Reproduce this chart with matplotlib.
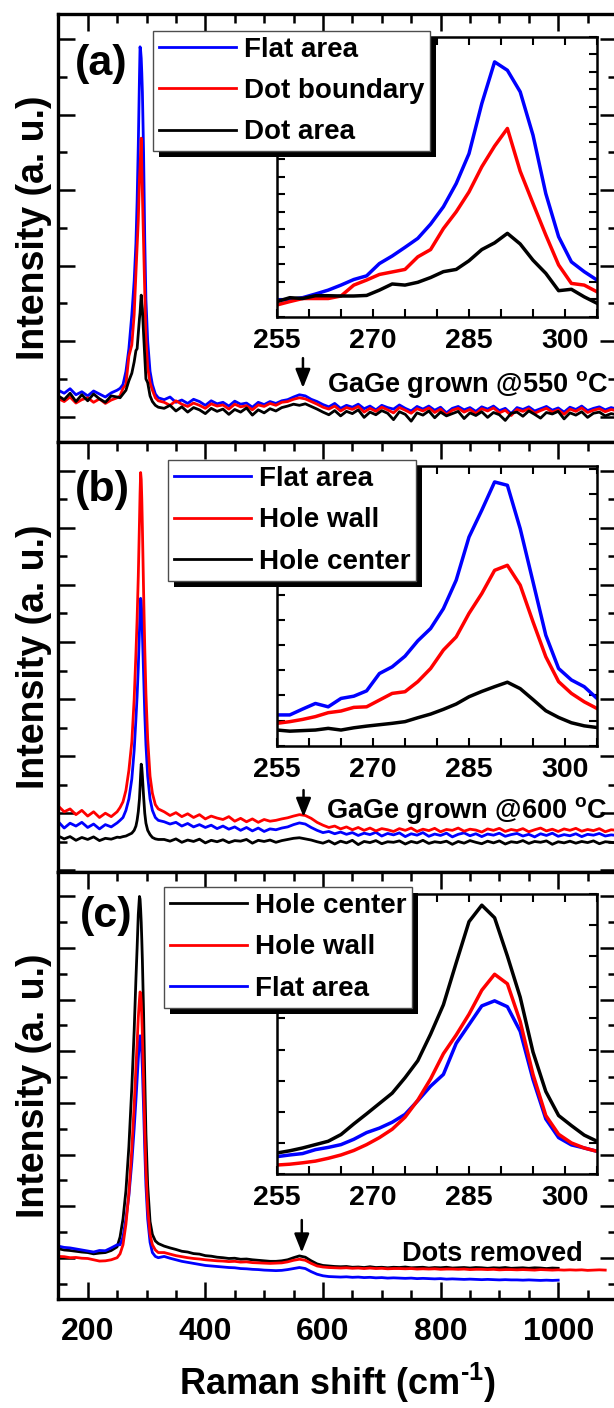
import numpy as np
import matplotlib
matplotlib.use("Agg")
import matplotlib.pyplot as plt
import matplotlib.patheffects as pe
from matplotlib.ticker import MultipleLocator, FixedLocator, NullFormatter

plt.rcParams.update({
    "font.family": "Liberation Sans",
    "font.weight": "bold",
    "axes.labelweight": "bold",
    "mathtext.fontset": "custom",
    "mathtext.rm": "Liberation Sans:bold",
    "mathtext.bf": "Liberation Sans:bold",
    "mathtext.it": "Liberation Sans:bold",
    "mathtext.sf": "Liberation Sans:bold",
})

# ---------------- data: main spectra (Raman shift, cm-1) ----------------
shift_left = [150, 160, 170, 180, 190, 200, 210, 220, 230, 240, 250]
shift_peak = [255, 260, 265, 270, 275, 279, 282, 284, 286, 288, 289, 290,
              291, 292, 293, 295, 297, 299, 302, 306, 310, 315, 320]
shift_tail = list(range(330, 1101, 10))
shift = np.array(shift_left + shift_peak + shift_tail, dtype=float)

# panel (a): GaGe grown @550 C
a_flat = ([0.70, 0.62, 0.74, 0.58, 0.66, 0.55, 0.68, 0.60, 0.52, 0.63, 0.70]
          + [0.75, 0.85, 1.2, 1.8, 2.7, 3.6, 4.6, 5.7, 7.2, 9.0, 9.8, 9.7, 9.5,
             9.1, 8.6, 7.0, 4.7, 3.1, 2.0, 1.2, 0.85, 0.6, 0.5]
          + [0.45, 0.52, 0.38, 0.44, 0.35, 0.46, 0.40, 0.30, 0.42, 0.34,
             0.38, 0.28, 0.41, 0.33, 0.36, 0.25, 0.38, 0.32, 0.40, 0.35,
             0.42, 0.45, 0.52, 0.58, 0.55, 0.46, 0.40, 0.32, 0.26, 0.35,
             0.22, 0.30, 0.25, 0.33, 0.21, 0.28, 0.18, 0.30, 0.24, 0.20,
             0.31, 0.22, 0.15, 0.27, 0.20, 0.28, 0.17, 0.25, 0.10, 0.22,
             0.27, 0.18, 0.24, 0.14, 0.26, 0.20, 0.28, 0.16, 0.22, 0.08,
             0.24, 0.19, 0.26, 0.15, 0.21, 0.27, 0.17, 0.23, 0.12, 0.25,
             0.19, 0.28, 0.16, 0.22, 0.26, 0.18, 0.24, 0.20])
a_boundary = ([0.48, 0.40, 0.52, 0.36, 0.45, 0.50, 0.38, 0.47, 0.35, 0.44, 0.50]
              + [0.55, 0.75, 0.85, 1.6, 1.9, 2.7, 3.8, 4.5, 5.2, 6.3, 6.6, 7.0,
                 7.38, 6.6, 5.9, 4.6, 3.3, 2.1, 1.3, 0.9, 0.7, 0.5, 0.42]
              + [0.38, 0.30, 0.42, 0.33, 0.27, 0.36, 0.30, 0.22, 0.34, 0.28,
                 0.31, 0.20, 0.33, 0.26, 0.29, 0.18, 0.31, 0.27, 0.35, 0.30,
                 0.38, 0.40, 0.46, 0.50, 0.47, 0.40, 0.33, 0.25, 0.20, 0.28,
                 0.15, 0.24, 0.19, 0.27, 0.12, 0.22, 0.14, 0.25, 0.18, 0.10,
                 0.24, 0.17, 0.09, 0.21, 0.15, 0.23, 0.11, 0.20, 0.05, 0.17,
                 0.22, 0.12, 0.19, 0.08, 0.21, 0.15, 0.23, 0.10, 0.17, 0.03,
                 0.19, 0.14, 0.21, 0.09, 0.16, 0.22, 0.12, 0.18, 0.06, 0.20,
                 0.14, 0.23, 0.11, 0.17, 0.21, 0.13, 0.19, 0.15])
a_dot = ([0.55, 0.45, 0.62, 0.40, 0.58, 0.42, 0.60, 0.47, 0.38, 0.55, 0.52]
         + [0.5, 0.6, 0.7, 0.95, 1.15, 1.45, 1.75, 1.8, 2.2, 2.6, 2.75, 3.0,
            3.22, 3.0, 2.85, 2.2, 1.6, 1.0, 0.9, 0.55, 0.4, 0.3, 0.25]
         + [0.22, 0.30, 0.15, 0.26, 0.12, 0.24, 0.18, 0.08, 0.22, 0.14,
            0.20, 0.06, 0.19, 0.12, 0.23, 0.04, 0.18, 0.10, 0.21, 0.15,
            0.24, 0.28, 0.33, 0.30, 0.34, 0.27, 0.20, 0.12, 0.05, 0.16,
            0.02, 0.14, 0.08, 0.18, -0.02, 0.12, 0.05, 0.16, 0.09, -0.08,
            0.13, 0.06, -0.12, 0.10, 0.04, 0.15, -0.03, 0.12, 0.02, 0.08,
            0.14, -0.05, 0.10, 0.03, 0.13, -0.02, 0.11, 0.05, -0.10, 0.09,
            0.12, 0.01, 0.15, 0.06, -0.04, 0.11, 0.07, 0.14, -0.06, 0.10,
            0.04, 0.13, -0.02, 0.09, 0.12, 0.02, 0.08, 0.05])

# panel (b): GaGe grown @600 C
b_flat = ([0.70, 0.48, 0.65, 0.55, 0.68, 0.50, 0.62, 0.45, 0.60, 0.52, 0.66]
          + [0.75, 0.85, 1.1, 1.5, 2.2, 3.2, 4.3, 5.1, 6.1, 7.4, 8.1, 8.53,
             8.45, 8.0, 7.3, 5.9, 4.5, 3.4, 2.3, 1.5, 1.1, 0.85, 0.75]
          + [0.70, 0.62, 0.68, 0.55, 0.64, 0.52, 0.60, 0.50, 0.58, 0.46,
             0.55, 0.44, 0.52, 0.40, 0.50, 0.38, 0.48, 0.36, 0.45, 0.42,
             0.48, 0.52, 0.60, 0.66, 0.62, 0.50, 0.40, 0.32, 0.36, 0.28,
             0.34, 0.26, 0.32, 0.22, 0.30, 0.25, 0.33, 0.20, 0.29, 0.24,
             0.31, 0.18, 0.28, 0.23, 0.32, 0.19, 0.27, 0.22, 0.30, 0.17,
             0.26, 0.31, 0.21, 0.28, 0.18, 0.27, 0.23, 0.30, 0.19, 0.25,
             0.29, 0.20, 0.26, 0.17, 0.28, 0.22, 0.30, 0.19, 0.25, 0.21,
             0.28, 0.18, 0.26, 0.23, 0.29, 0.20, 0.24, 0.22])
b_wall = ([1.25, 1.05, 1.15, 0.95, 1.10, 0.90, 1.05, 0.85, 1.00, 0.88, 1.05]
          + [1.2, 1.4, 1.8, 2.5, 3.5, 5.0, 6.6, 7.8, 9.3, 11.2, 12.2, 12.94,
             12.7, 12.0, 11.0, 8.8, 6.8, 5.2, 3.6, 2.3, 1.7, 1.3, 1.15]
          + [1.05, 0.92, 1.02, 0.88, 0.98, 0.85, 0.95, 0.80, 0.90, 0.83,
             0.78, 0.88, 0.72, 0.82, 0.70, 0.80, 0.68, 0.78, 0.72, 0.75,
             0.80, 0.84, 0.90, 0.95, 0.92, 0.82, 0.68, 0.58, 0.50, 0.55,
             0.45, 0.52, 0.42, 0.50, 0.40, 0.48, 0.38, 0.46, 0.42, 0.36,
             0.46, 0.40, 0.48, 0.36, 0.44, 0.39, 0.47, 0.35, 0.43, 0.40,
             0.48, 0.37, 0.44, 0.41, 0.34, 0.45, 0.40, 0.47, 0.36, 0.43,
             0.39, 0.46, 0.35, 0.42, 0.48, 0.38, 0.44, 0.36, 0.45, 0.40,
             0.47, 0.37, 0.43, 0.39, 0.46, 0.35, 0.42, 0.40])
b_center = ([0.20, 0.10, 0.18, 0.05, 0.15, 0.08, 0.17, 0.04, 0.12, 0.09, 0.16]
            + [0.15, 0.18, 0.2, 0.25, 0.3, 0.4, 0.55, 0.75, 1.05, 1.5, 1.9, 2.35,
               2.72, 2.6, 2.3, 1.6, 1.0, 0.65, 0.4, 0.25, 0.15, 0.1, 0.08]
            + [0.08, 0.02, 0.10, -0.02, 0.06, 0.01, 0.09, -0.04, 0.05, 0.00,
               0.07, -0.03, 0.04, 0.02, 0.08, -0.05, 0.05, 0.01, 0.06, -0.02,
               0.04, 0.08, 0.12, 0.14, 0.10, 0.06, 0.00, -0.05, 0.03, -0.08,
               0.02, -0.04, 0.05, -0.10, 0.01, -0.03, 0.04, -0.07, 0.00, -0.02,
               0.03, -0.08, 0.01, -0.04, 0.05, -0.06, 0.00, -0.03, 0.02, -0.09,
               0.01, -0.05, 0.04, -0.02, -0.07, 0.02, -0.04, 0.03, -0.08, 0.00,
               -0.03, 0.04, -0.06, 0.01, -0.02, 0.03, -0.09, 0.00, -0.04, 0.02,
               -0.05, 0.01, -0.03, 0.03, -0.07, 0.00, -0.02, -0.04])

# panel (c): dots removed (black and blue end at 1000 cm-1, red at 1080 cm-1)
c_center = ([1.35, 1.30, 1.28, 1.25, 1.22, 1.20, 1.15, 1.18, 1.20, 1.28, 1.42]
            + [1.8, 2.5, 3.6, 5.3, 7.6, 9.8, 11.8, 13.0, 14.3, 15.0, 14.9, 14.5,
               14.0, 13.3, 12.5, 10.5, 8.0, 5.8, 3.8, 2.4, 1.9, 1.65, 1.55]
            + [1.45, 1.38, 1.32, 1.25, 1.22, 1.16, 1.14, 1.08, 1.06, 1.02,
               1.00, 0.97, 0.98, 0.94, 0.95, 0.92, 0.90, 0.88, 0.86, 0.86,
               0.88, 0.92, 1.00, 1.07, 1.02, 0.88, 0.76, 0.70, 0.68, 0.66,
               0.65, 0.66, 0.63, 0.64, 0.62, 0.65, 0.62, 0.63, 0.61, 0.63,
               0.62, 0.64, 0.61, 0.62, 0.63, 0.60, 0.62, 0.61, 0.63, 0.60,
               0.61, 0.62, 0.60, 0.62, 0.61, 0.59, 0.61, 0.60, 0.62, 0.59,
               0.60, 0.61, 0.59, 0.61, 0.60, 0.58, 0.60, 0.59])
c_wall = ([1.05, 1.04, 1.00, 1.01, 0.98, 0.97, 0.92, 0.87, 0.88, 0.92, 1.00]
          + [1.15, 1.5, 2.3, 3.5, 5.2, 6.9, 8.4, 9.3, 10.3, 11.0, 11.3, 11.25,
             10.9, 10.3, 9.6, 7.9, 6.0, 4.4, 2.9, 1.9, 1.5, 1.3, 1.2]
          + [1.20, 1.14, 1.08, 1.04, 1.00, 0.97, 0.95, 0.92, 0.90, 0.88,
             0.87, 0.85, 0.86, 0.83, 0.84, 0.81, 0.80, 0.79, 0.78, 0.79,
             0.80, 0.84, 0.90, 0.94, 0.90, 0.78, 0.68, 0.64, 0.62, 0.61,
             0.60, 0.61, 0.59, 0.60, 0.58, 0.60, 0.58, 0.59, 0.57, 0.58,
             0.58, 0.57, 0.58, 0.56, 0.57, 0.56, 0.57, 0.55, 0.56, 0.56,
             0.55, 0.56, 0.54, 0.55, 0.55, 0.54, 0.55, 0.53, 0.54, 0.54,
             0.53, 0.54, 0.53, 0.52, 0.54, 0.53, 0.52, 0.53, 0.52, 0.53,
             0.52, 0.53, 0.51, 0.52, 0.53, 0.52])
c_flat = ([1.45, 1.40, 1.38, 1.34, 1.30, 1.26, 1.22, 1.28, 1.27, 1.38, 1.50]
          + [1.5, 1.8, 2.5, 3.4, 4.7, 6.0, 7.1, 7.9, 8.7, 9.4, 9.6, 9.55,
             9.3, 8.9, 8.3, 6.8, 5.2, 3.8, 2.5, 1.6, 1.2, 1.05, 1.0]
          + [1.05, 0.98, 0.92, 0.86, 0.82, 0.78, 0.74, 0.70, 0.68, 0.66,
             0.64, 0.62, 0.61, 0.58, 0.57, 0.55, 0.54, 0.52, 0.51, 0.50,
             0.51, 0.54, 0.58, 0.62, 0.58, 0.46, 0.36, 0.30, 0.27, 0.26,
             0.25, 0.26, 0.24, 0.25, 0.23, 0.24, 0.22, 0.23, 0.21, 0.22,
             0.21, 0.20, 0.21, 0.19, 0.20, 0.19, 0.18, 0.19, 0.17, 0.18,
             0.17, 0.16, 0.17, 0.16, 0.15, 0.16, 0.15, 0.14, 0.15, 0.14,
             0.14, 0.13, 0.14, 0.13, 0.12, 0.13, 0.12, 0.13])

# ---------------- data: insets (255-305 cm-1) ----------------
inset_shift = np.arange(255, 306, 2)
ia_flat = [5.95, 6.2, 6.8, 8.1, 9.5, 11.3, 13.3, 14.6, 19.0, 21.7, 24.8, 28.0, 33.1,
           39.3, 47.6, 58.3, 76.2, 91.1, 88.1, 80.4, 64.9, 44.0, 28.6, 19.6, 16.1, 13.1]
ia_boundary = [4.2, 5.4, 6.5, 6.5, 6.5, 7.4, 11.3, 13.1, 15.1, 16.0, 16.9, 21.4, 24.0,
               31.5, 37.5, 44.6, 53.6, 61.0, 67.3, 52.0, 40.5, 29.2, 18.5, 11.9, 11.3, 8.9]
ia_dot = [5.4, 6.8, 6.5, 7.5, 7.5, 7.4, 7.4, 7.6, 9.5, 11.7, 11.3, 12.3, 14.0,
          16.1, 16.9, 20.0, 24.0, 26.4, 29.8, 26.0, 20.2, 15.5, 9.3, 9.8, 7.1, 4.8]
ib_flat = [11.0, 11.0, 13.1, 15.1, 13.9, 16.9, 17.7, 19.6, 25.8, 28.2, 32.0, 37.5, 41.9,
           49.0, 59.2, 74.6, 84.2, 94.3, 93.1, 77.6, 58.6, 39.5, 27.6, 23.5, 21.1, 16.9]
ib_wall = [8.0, 8.6, 9.4, 10.4, 11.8, 12.4, 13.7, 13.9, 16.3, 18.7, 19.3, 22.9, 27.6,
           34.2, 38.9, 47.3, 54.4, 62.7, 64.5, 57.4, 44.3, 31.8, 22.9, 18.7, 15.7, 13.3]
ib_center = [5.6, 5.2, 5.4, 5.6, 6.2, 5.6, 6.4, 7.0, 7.5, 8.0, 8.6, 10.0, 11.3,
             13.0, 14.9, 17.5, 19.4, 21.1, 22.7, 20.4, 16.5, 12.5, 10.1, 8.2, 7.1, 6.5]
ic_center = [7.4, 8.2, 9.2, 10.4, 11.6, 14.0, 17.8, 21.4, 25.1, 28.8, 34.3, 40.4, 49.9,
             60.4, 75.4, 90.1, 96.0, 91.5, 77.8, 63.1, 43.5, 29.4, 20.8, 17.2, 13.8, 11.6]
ic_wall = [3.1, 3.4, 3.9, 4.5, 5.5, 6.7, 8.3, 10.4, 12.9, 15.9, 20.2, 26.3, 33.9,
           42.9, 49.6, 57.0, 65.6, 71.3, 67.9, 54.4, 35.5, 20.8, 14.1, 11.0, 9.2, 8.0]
ic_flat = [6.1, 6.7, 7.2, 8.6, 9.4, 10.4, 12.3, 14.7, 16.3, 18.4, 21.2, 26.1, 31.3,
           35.5, 46.6, 53.3, 60.0, 61.8, 59.7, 50.9, 33.7, 19.6, 12.9, 10.3, 9.2, 8.0]

labels_a = ["Flat area", "Dot boundary", "Dot area"]
labels_b = ["Flat area", "Hole wall", "Hole center"]
labels_c = ["Hole center", "Hole wall", "Flat area"]
panel_tags = ["(a)", "(b)", "(c)"]
notes = [r"GaGe grown @550 $^{\mathbf{o}}$C", r"GaGe grown @600 $^{\mathbf{o}}$C", "Dots removed"]
note_pos = [(607, 0.66), (606, 0.83), (735, 0.87)]
arrow_x = [566, 567, 564]
arrow_tip = [0.76, 0.87, 1.20]
arrow_tail = [1.55, 1.81, 2.46]
xticks_main = [200, 400, 600, 800, 1000]
xticks_inset = [255, 270, 285, 300]

BLUE, RED, BLACK = "#0000ff", "#ff0000", "#000000"

# ---------------- layout (pixels of the 614x1408 canvas) ----------------
W, H = 614, 1408
fig = plt.figure(figsize=(W / 100, H / 100), dpi=100)
fig.patch.set_facecolor("white")


def rect(x0, y0, x1, y1):
    return [x0 / W, 1 - y1 / H, (x1 - x0) / W, (y1 - y0) / H]


main_rows = [(14, 442.3), (442.3, 871.7), (871.7, 1299)]
inset_rows = [(37, 316.7), (466, 745.7), (894, 1173.7)]
main_ylim = [(-0.68, 10.67), (-1.05, 14.0), (-0.6, 15.96)]
major_offset = [0, 1, 1]
inset_ystep = [6.25, 9.0, 11.1]
legend_anchor = [(153, 30.7), (168, 460), (164, 887)]
tag_pos = [(101, 64), (102, 490), (106, 916)]
LX0, LX1 = 58.3, 617.0

n_short = len(shift_left) + len(shift_peak) + 68   # up to 1000 cm-1
n_red_c = len(shift_left) + len(shift_peak) + 76   # up to 1080 cm-1

panels = [
    [(shift, a_flat, BLUE, labels_a[0]), (shift, a_boundary, RED, labels_a[1]),
     (shift, a_dot, BLACK, labels_a[2])],
    [(shift, b_flat, BLUE, labels_b[0]), (shift, b_wall, RED, labels_b[1]),
     (shift, b_center, BLACK, labels_b[2])],
    [(shift[:n_short], c_center, BLACK, labels_c[0]), (shift[:n_short], c_flat, BLUE, labels_c[2]),
     (shift[:n_red_c], c_wall, RED, labels_c[1])],
]
inset_series = [
    [(ia_flat, BLUE), (ia_boundary, RED), (ia_dot, BLACK)],
    [(ib_flat, BLUE), (ib_wall, RED), (ib_center, BLACK)],
    [(ic_center, BLACK), (ic_flat, BLUE), (ic_wall, RED)],
]
legend_order = [[0, 1, 2], [0, 1, 2], [0, 2, 1]]

shadow_fx = [pe.SimplePatchShadow(offset=(4.3, -4.3), shadow_rgbFace="black", alpha=1.0, rho=1.0),
             pe.Normal()]

for i in range(3):
    top, bot = main_rows[i]
    ax = fig.add_axes(rect(LX0, top, LX1, bot))
    handles = []
    for xs, ys, col, lab in panels[i]:
        ln, = ax.plot(xs, ys, color=col, lw=2.0, label=lab)
        handles.append(ln)
    ax.set_xlim(150, 1100)
    ax.set_ylim(*main_ylim[i])
    ax.xaxis.set_major_locator(FixedLocator(xticks_main))
    ax.xaxis.set_minor_locator(MultipleLocator(50))
    ax.yaxis.set_major_locator(MultipleLocator(2, offset=major_offset[i]))
    ax.yaxis.set_minor_locator(MultipleLocator(1))
    ax.yaxis.set_major_formatter(NullFormatter())
    for s in ax.spines.values():
        s.set_linewidth(2.4)
    ax.tick_params(which="both", direction="in", top=True, right=True,
                   bottom=(i == 2), labelbottom=(i == 2), width=1.8, labelsize=23, pad=12.7)
    ax.tick_params(which="major", length=12.5)
    ax.tick_params(which="minor", length=6.5)
    ax.set_ylabel("Intensity (a. u.)", fontsize=27)
    ax.yaxis.set_label_coords((52 - LX0) / (LX1 - LX0), 0.5)
    if i == 2:
        ax.set_xlabel("Raman shift (cm$^{\\mathbf{\u2010}\\mathbf{1}}$)", fontsize=26)
        ax.xaxis.set_label_coords(0.5, (bot - 1361) / (bot - top))
    # panel tag
    tx, ty = tag_pos[i]
    ax.text((tx - LX0) / (LX1 - LX0), 1 - (ty - top) / (bot - top), panel_tags[i],
            transform=ax.transAxes, ha="center", va="center", fontsize=31, fontweight="bold")
    # arrow and note
    ax.annotate("", xy=(arrow_x[i], arrow_tip[i]), xytext=(arrow_x[i], arrow_tail[i]),
                arrowprops=dict(arrowstyle="-|>,head_length=0.75,head_width=0.3",
                                color="black", lw=1.8, shrinkA=0, shrinkB=0,
                                mutation_scale=15))
    ax.text(note_pos[i][0], note_pos[i][1], notes[i], ha="left", va="baseline",
            fontsize=19.5, fontweight="bold")

    # inset
    itop, ibot = inset_rows[i]
    axi = fig.add_axes(rect(277, itop, 597, ibot))
    for ys, col in inset_series[i]:
        axi.plot(inset_shift, ys, color=col, lw=2.5, solid_joinstyle="round")
    axi.set_xlim(255, 305)
    axi.set_ylim(0, 100)
    axi.xaxis.set_major_locator(FixedLocator(xticks_inset))
    axi.xaxis.set_minor_locator(MultipleLocator(5))
    axi.yaxis.set_major_locator(MultipleLocator(inset_ystep[i]))
    axi.yaxis.set_major_formatter(NullFormatter())
    for s in axi.spines.values():
        s.set_linewidth(1.8)
    axi.tick_params(which="both", direction="in", top=True, right=True,
                    length=6, width=1.5, labelsize=20.5, pad=8)

    # legend (figure level so it sits above the inset), with black drop shadow
    hs = [handles[k] for k in legend_order[i]]
    lx, ly = legend_anchor[i]
    leg = fig.legend(handles=hs, labels=[h.get_label() for h in hs], loc="upper left",
                     bbox_to_anchor=(lx / W, 1 - ly / H), bbox_transform=fig.transFigure,
                     borderaxespad=0, fontsize=20, handlelength=2.75, handletextpad=0.3,
                     borderpad=0.22, labelspacing=0.55, fancybox=False, framealpha=1,
                     edgecolor="0.3")
    leg.get_frame().set_linewidth(1.0)
    leg.get_frame().set_path_effects(shadow_fx)
    leg.set_zorder(5)

fig.savefig("out.png", dpi=100)
